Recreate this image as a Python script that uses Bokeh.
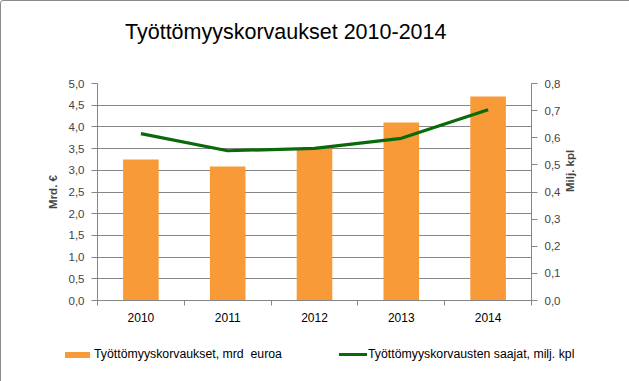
import math
from bokeh.plotting import figure
from bokeh.layouts import column
from bokeh.models import (Range1d, LinearAxis, FixedTicker, CustomJSTickFormatter,
                          ColumnDataSource, Div)
from bokeh.embed import file_html
from bokeh.resources import INLINE

# ---- data ----
years = ["2010", "2011", "2012", "2013", "2014"]
benefits_bn_eur = [3.25, 3.09, 3.50, 4.10, 4.70]          # Työttömyyskorvaukset, mrd euroa
recipients_mil = [0.615, 0.552, 0.561, 0.598, 0.703]       # Työttömyyskorvausten saajat, milj. kpl
left_ticks = [0.0, 0.5, 1.0, 1.5, 2.0, 2.5, 3.0, 3.5, 4.0, 4.5, 5.0]
right_ticks = [0.0, 0.1, 0.2, 0.3, 0.4, 0.5, 0.6, 0.7, 0.8]
title_text = "Työttömyyskorvaukset 2010-2014"
bar_label = "Työttömyyskorvaukset, mrd  euroa"
line_label = "Työttömyyskorvausten saajat, milj. kpl"

ORANGE = "#F99A38"
GREEN = "#0A6A0A"
GRAY = "#868686"
FONT = "Liberation Sans"

n = len(years)
xpos = [i + 0.5 for i in range(n)]
src = ColumnDataSource(dict(x=xpos, year=years, benefits=benefits_bn_eur, recipients=recipients_mil))

# ---- title strip ----
title_div = Div(width=627, height=40, text=(
    '<div style="position:relative;width:627px;height:40px;">'
    '<span style="position:absolute;left:119px;top:13px;font-family:\'Liberation Sans\';'
    'font-size:21.5px;line-height:26px;color:black;white-space:nowrap;">'
    + title_text + '</span></div>'))

# ---- main chart ----
p = figure(width=627, height=280, output_backend="svg", toolbar_location=None,
           x_range=Range1d(0, n), y_range=Range1d(left_ticks[0], left_ticks[-1]),
           min_border_left=96, min_border_right=97, min_border_top=32, min_border_bottom=31)
p.outline_line_color = None
p.background_fill_color = "white"
p.border_fill_color = "white"
p.extra_y_ranges = {"right": Range1d(right_ticks[0], right_ticks[-1])}

p.vbar(x="x", top="benefits", width=0.41, source=src, fill_color=ORANGE, line_color=None)
p.line(x="x", y="recipients", source=src, y_range_name="right",
       line_color=GREEN, line_width=3.2, line_join="round")

fmt = CustomJSTickFormatter(code="return tick.toFixed(1).replace('.', ',');")

# x axis
xa = p.xaxis[0]
xa.ticker = FixedTicker(ticks=xpos, minor_ticks=list(range(n + 1)))
xa.formatter = CustomJSTickFormatter(args=dict(years=years), code="return years[Math.floor(tick)];")
xa.major_tick_out = 0
xa.major_tick_in = 0
xa.minor_tick_out = 5
xa.minor_tick_in = 0
xa.minor_tick_line_color = GRAY
xa.axis_line_color = GRAY
xa.major_label_standoff = 7
xa.major_label_text_font = FONT
xa.major_label_text_font_size = "12px"
xa.major_label_text_color = "black"

# left axis
ya = p.yaxis[0]
ya.ticker = FixedTicker(ticks=left_ticks)
ya.formatter = fmt
ya.axis_label = "Mrd. €"
ya.axis_label_text_font = FONT
ya.axis_label_text_font_style = "bold"
ya.axis_label_text_font_size = "11.5px"
ya.axis_label_standoff = 7
ya.major_label_text_font = FONT
ya.major_label_text_font_size = "11.5px"
ya.major_label_standoff = 7
ya.major_tick_out = 6
ya.major_tick_in = 0
ya.minor_tick_line_color = None
ya.axis_line_color = GRAY
ya.major_tick_line_color = GRAY

# right axis
ra = LinearAxis(y_range_name="right", ticker=FixedTicker(ticks=right_ticks), formatter=fmt)
ra.axis_label = "Milj. kpl"
ra.axis_label_orientation = math.pi / 2
ra.axis_label_text_font = FONT
ra.axis_label_text_font_style = "bold"
ra.axis_label_text_font_size = "11.5px"
ra.axis_label_standoff = 7
ra.major_label_text_font = FONT
ra.major_label_text_font_size = "11.5px"
ra.major_label_standoff = 7
ra.major_tick_out = 6
ra.major_tick_in = 0
ra.minor_tick_line_color = None
ra.axis_line_color = GRAY
ra.major_tick_line_color = GRAY
p.add_layout(ra, "right")

p.xgrid.visible = False
p.ygrid.ticker = FixedTicker(ticks=left_ticks)
p.ygrid.grid_line_color = GRAY
p.ygrid.grid_line_width = 1

# ---- legend strip ----
txt = ("position:absolute;top:11px;font-family:'Liberation Sans';font-size:12.3px;"
       "line-height:14px;color:black;white-space:pre;")
legend_div = Div(width=627, height=59, text=(
    '<div style="position:relative;width:627px;height:59px;">'
    f'<span style="position:absolute;left:59px;top:16px;width:25px;height:6px;background:{ORANGE};"></span>'
    f'<span style="{txt}left:88px;">{bar_label}</span>'
    f'<span style="position:absolute;left:333px;top:17px;width:28px;height:3px;background:{GREEN};"></span>'
    f'<span style="{txt}left:362px;">{line_label}</span>'
    '</div>'))

layout = column(title_div, p, legend_div, spacing=0,
                styles={"border": "1px solid #8a8a8a", "border-radius": "3px",
                        "background-color": "white"})

html = file_html(layout, INLINE)
html = html.replace("<head>", "<head><style>html,body{margin:0;padding:0;}</style>", 1)
open("out.html", "w", encoding="utf-8").write(html)
